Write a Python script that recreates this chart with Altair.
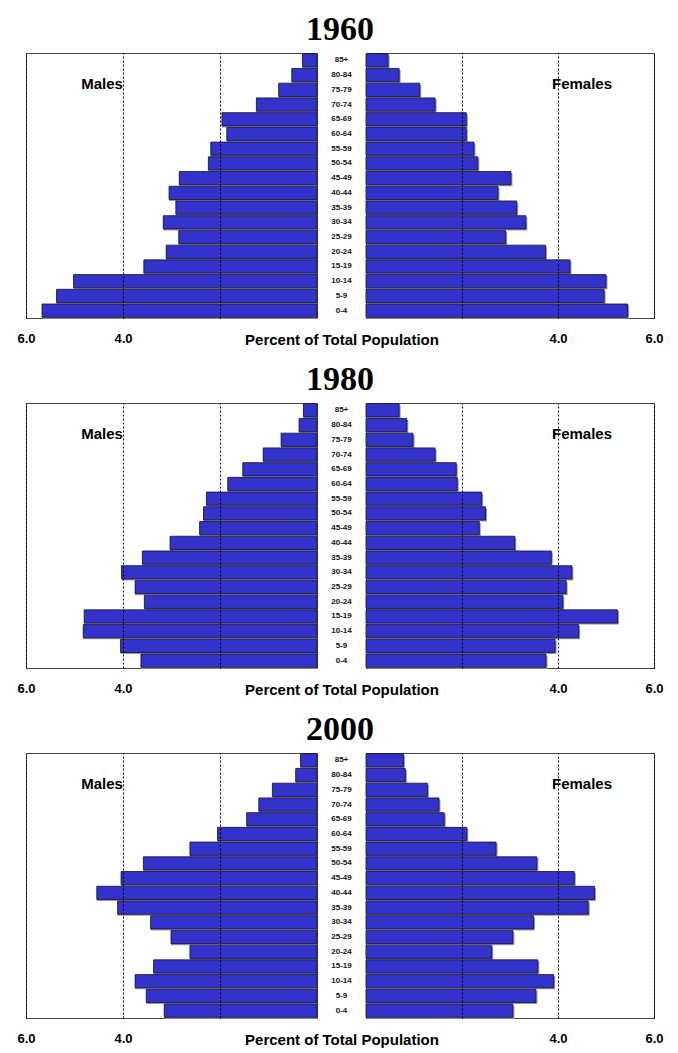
import altair as alt
import pandas as pd

ages = ["0-4", "5-9", "10-14", "15-19", "20-24", "25-29", "30-34", "35-39", "40-44",
        "45-49", "50-54", "55-59", "60-64", "65-69", "70-74", "75-79", "80-84", "85+"]
years = ["1960", "1980", "2000"]

males_1960 = [5.67, 5.37, 5.02, 3.57, 3.11, 2.85, 3.17, 2.91, 3.05, 2.84, 2.24, 2.19, 1.86, 1.96, 1.25, 0.79, 0.52, 0.30]
females_1960 = [5.45, 4.96, 5.00, 4.25, 3.74, 2.91, 3.33, 3.14, 2.75, 3.02, 2.33, 2.25, 2.09, 2.09, 1.44, 1.12, 0.69, 0.46]
males_1980 = [3.63, 4.05, 4.82, 4.80, 3.56, 3.75, 4.03, 3.60, 3.03, 2.42, 2.34, 2.28, 1.84, 1.53, 1.11, 0.74, 0.37, 0.28]
females_1980 = [3.75, 3.94, 4.43, 5.24, 4.10, 4.17, 4.29, 3.86, 3.10, 2.36, 2.49, 2.41, 1.90, 1.88, 1.44, 0.98, 0.85, 0.69]
males_2000 = [3.15, 3.52, 3.75, 3.37, 2.62, 3.01, 3.43, 4.11, 4.54, 4.04, 3.58, 2.62, 2.05, 1.45, 1.20, 0.92, 0.44, 0.34]
females_2000 = [3.06, 3.54, 3.91, 3.58, 2.62, 3.06, 3.49, 4.63, 4.76, 4.34, 3.56, 2.71, 2.10, 1.63, 1.52, 1.28, 0.82, 0.78]

series = {
    "1960": (males_1960, females_1960),
    "1980": (males_1980, females_1980),
    "2000": (males_2000, females_2000),
}

BLUE = "#3333CC"
SANS = "Liberation Sans"
SERIF = "Liberation Serif"
order = list(reversed(ages))
PW_L, PW_R, PW_M, PH = 291, 288, 49, 265

yenc = alt.Y("age:N", sort=order, axis=None,
             scale=alt.Scale(paddingInner=0.1, paddingOuter=0.05))

label_expr = "datum.value == 2 ? '' : format(datum.value, '.1f')"


def xaxis():
    return alt.Axis(values=[2, 4, 6], labelExpr=label_expr, title=None,
                    grid=True, gridDash=[2, 2], gridColor="#000", gridWidth=1,
                    ticks=False, tickSize=0, domain=False, labelFlush=False,
                    labelFont=SANS, labelFontWeight="bold", labelFontSize=13,
                    labelColor="#000", labelPadding=14, zindex=1)


def block(year):
    m, f = series[year]
    df = pd.DataFrame({"age": ages, "male": m, "female": f})
    base = alt.Chart(df)

    left = alt.layer(
        base.mark_bar(color="#9a9a9a", yOffset=1.5).encode(
            x=alt.X("male:Q", scale=alt.Scale(domain=[0, 6], reverse=True), axis=xaxis()),
            y=yenc),
        base.mark_bar(fill=BLUE, stroke="#111133", strokeWidth=0.8).encode(
            x=alt.X("male:Q"), y=yenc),
        alt.Chart(pd.DataFrame({"t": ["Males"]})).mark_text(
            font=SANS, fontWeight="bold", fontSize=15, color="#000").encode(
            text="t:N", x=alt.value(76), y=alt.value(31)),
    ).properties(width=PW_L, height=PH)

    right = alt.layer(
        base.mark_bar(color="#9a9a9a", yOffset=1.5, xOffset=1.5).encode(
            x=alt.X("female:Q", scale=alt.Scale(domain=[0, 6]), axis=xaxis()),
            y=yenc),
        base.mark_bar(fill=BLUE, stroke="#111133", strokeWidth=0.8).encode(
            x=alt.X("female:Q"), y=yenc),
        alt.Chart(pd.DataFrame({"t": ["Females"]})).mark_text(
            font=SANS, fontWeight="bold", fontSize=15, color="#000").encode(
            text="t:N", x=alt.value(216), y=alt.value(31)),
    ).properties(width=PW_R, height=PH)

    middle = base.transform_calculate(mid="0.5").mark_text(
        font=SANS, fontWeight="bold", fontSize=8, color="#111").encode(
        y=yenc,
        text="age:N",
        x=alt.X("mid:Q", scale=alt.Scale(domain=[0, 1]),
                axis=alt.Axis(title="Percent of Total Population", labels=False,
                              ticks=False, tickSize=0, domain=False, grid=False,
                              titleFont=SANS, titleFontWeight="bold", titleFontSize=15,
                              titleColor="#000", titlePadding=14, titleBaseline="top")),
    ).properties(width=PW_M, height=PH, view=alt.ViewBackground(stroke="transparent"))

    return alt.hconcat(left, middle, right, spacing=0, bounds="flush").properties(
        title=alt.TitleParams(text=year, font=SERIF, fontWeight="bold", fontSize=34,
                              color="#000", anchor="middle", offset=6))


chart = alt.vconcat(*[block(y) for y in years], spacing=14).properties(
    padding={"left": 8, "top": 4, "right": 5, "bottom": 2}
).configure_view(stroke="#444", strokeWidth=1)

chart.save("out.html", embed_options={"renderer": "svg", "actions": False})
